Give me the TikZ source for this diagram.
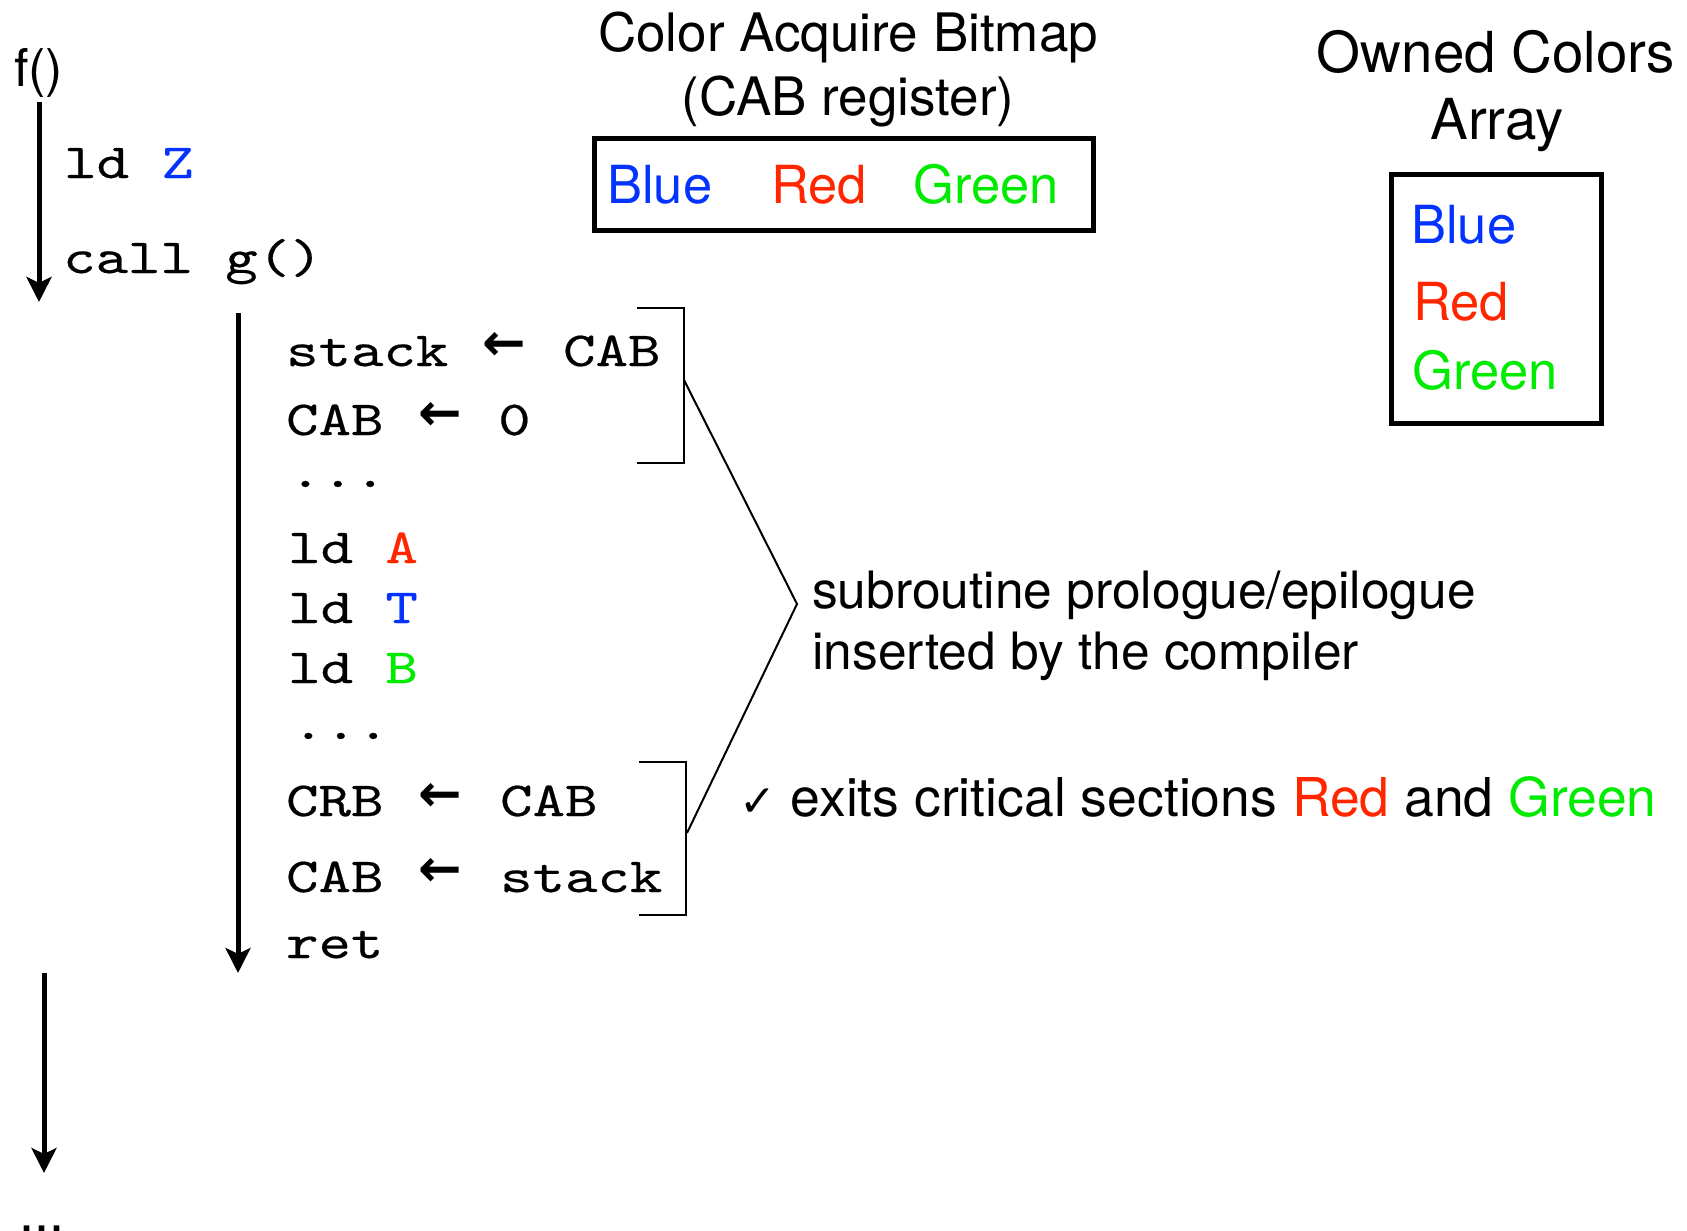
\documentclass[tikz,border=0pt]{standalone}
\usepackage{fontspec}
\setmainfont{TeX Gyre Heros}
\newfontfamily\codefont[FakeStretch=1.26,FakeBold=0.4]{lmmono10-regular.otf}
\newfontfamily\symfont{DejaVu Sans}
\newfontfamily\arrowfont{DejaVu Sans Bold}
\usetikzlibrary{arrows.meta}
\definecolor{cblue}{RGB}{4,51,255}
\definecolor{cred}{RGB}{255,38,0}
\definecolor{cgreen}{RGB}{0,235,0}
\tikzset{
  flow/.style={line width=5pt, -{Stealth[length=25pt,width=25pt,inset=6pt]}},
  bracketline/.style={line width=2pt},
  frame/.style={draw, line width=5pt, inner sep=0pt},
  lbl/.style={inner sep=0pt, anchor=base west, font=\fontsize{53.5}{64}\selectfont},
  ctitle/.style={inner sep=0pt, anchor=base, font=\fontsize{53}{64}\selectfont},
  otitle/.style={inner sep=0pt, anchor=base, font=\fontsize{56.5}{66}\selectfont},
  cname/.style={inner sep=0pt, anchor=base west, font=\fontsize{52.5}{62}\selectfont},
  code/.style={inner sep=0pt, anchor=base west, font=\codefont\fontsize{49}{59}\selectfont},
  larrow/.style={inner sep=0pt, font=\arrowfont\fontsize{52}{60}\selectfont},
}
\begin{document}
\begin{tikzpicture}[x=1pt,y=-1pt]
\fill[white] (0,0) rectangle (1687,1231);
\useasboundingbox (0,0) rectangle (1687,1231);

% caller f()
\node[lbl, font=\fontsize{52}{60}\selectfont] (f) at (14,87) {f()};
\coordinate (fTop) at (39,102);
\coordinate (fBot) at (39,302);
\draw[flow] (fTop) -- (fBot);
\node[code] (ldz) at (64,178) {ld \textcolor{cblue}{Z}};
\node[code] (callg) at (63,273) {call g()};

% callee g()
\coordinate (gTop) at (238,313);
\coordinate (gBot) at (238,973);
\draw[flow] (gTop) -- (gBot);

\node[code] (s1) at (286,366) {stack};
\node[larrow] (a1) at (504,346) {←};
\node[code] (d1) at (563,366) {CAB};

\node[code] (s2) at (286,435) {CAB};
\node[larrow] (a2) at (440,416) {←};
\node[code] (d2) at (498,435) {0};

\node[code] (dots1) at (289,487) {...};
\node[code] (lda) at (288,563) {ld \textcolor{cred}{A}};
\node[code] (ldt) at (288,623) {ld \textcolor{cblue}{T}};
\node[code] (ldb) at (288,683) {ld \textcolor{cgreen}{B}};
\node[code] (dots2) at (292,739) {...};

\node[code] (s3) at (286,816) {CRB};
\node[larrow] (a3) at (440,797) {←};
\node[code] (d3) at (500,816) {CAB};

\node[code] (s4) at (286,892) {CAB};
\node[larrow] (a4) at (440,872) {←};
\node[code] (d4) at (500,892) {stack};

\node[code] (ret) at (286,958) {ret};

% return to f()
\coordinate (rTop) at (44,973);
\coordinate (rBot) at (44,1173);
\draw[flow] (rTop) -- (rBot);
\node[lbl, font=\fontsize{54}{64}\selectfont] (more) at (19.5,1231) {...};

% prologue / epilogue brackets
\coordinate (b1a) at (637,308);
\coordinate (b1b) at (684,308);
\coordinate (b1c) at (684,463);
\coordinate (b1d) at (637,463);
\coordinate (b1m) at (684,380);
\draw[bracketline] (b1a) -- (b1b) -- (b1c) -- (b1d);
\coordinate (b2a) at (639,762);
\coordinate (b2b) at (686,762);
\coordinate (b2c) at (686,915);
\coordinate (b2d) at (639,915);
\coordinate (b2m) at (687,833);
\draw[bracketline] (b2a) -- (b2b) -- (b2c) -- (b2d);
\coordinate (apex) at (797,604);
\draw[bracketline] (b1m) -- (apex) -- (b2m);

\node[lbl, font=\fontsize{51.5}{62}\selectfont] (note1) at (812,608) {subroutine prologue/epilogue};
\node[lbl, font=\fontsize{51.5}{62}\selectfont] (note2) at (812,669) {inserted by the compiler};

\node[lbl] (exits) at (739,816) {{\symfont\fontsize{44}{48}\selectfont ✓} exits critical sections \textcolor{cred}{Red} and \textcolor{cgreen}{Green}};

% Color Acquire Bitmap register
\node[ctitle] (cabt1) at (848,52) {Color Acquire Bitmap};
\node[ctitle] (cabt2) at (848,115) {(CAB register)};
\node[frame, minimum width=499pt, minimum height=92pt] (cab) at (843.5,184) {};
\node[cname, text=cblue] (cabblue) at (607,203) {Blue};
\node[cname, text=cred] (cabred) at (771,203) {Red};
\node[cname, text=cgreen] (cabgreen) at (913,203) {Green};

% Owned Colors Array
\node[otitle] (ownt1) at (1496,73) {Owned Colors};
\node[otitle] (ownt2) at (1497,139) {Array};
\node[frame, minimum width=210pt, minimum height=249pt] (own) at (1496.5,299) {};
\node[cname, text=cblue] (ownblue) at (1411,243) {Blue};
\node[cname, text=cred] (ownred) at (1413,320) {Red};
\node[cname, text=cgreen] (owngreen) at (1412,389) {Green};
\end{tikzpicture}
\end{document}
